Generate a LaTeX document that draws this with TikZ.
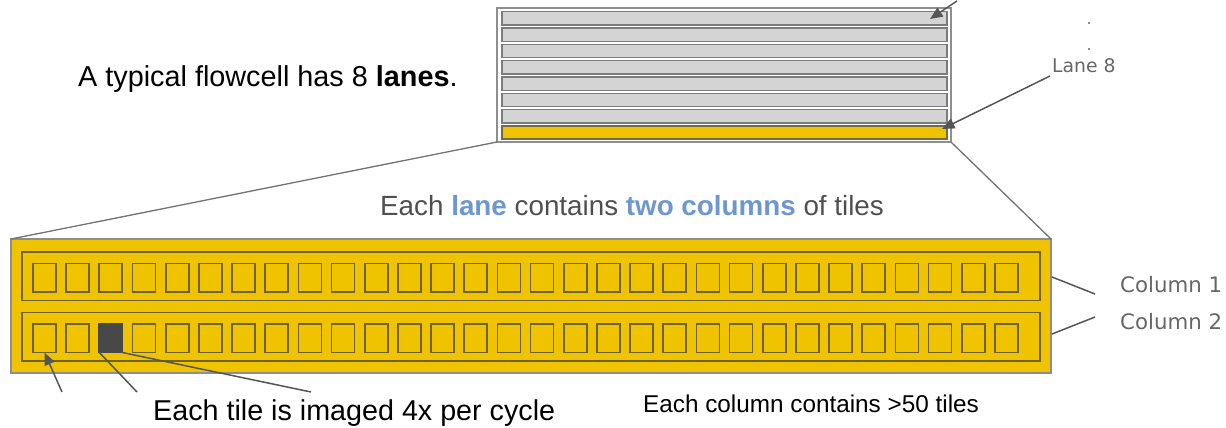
\documentclass[tikz,border=0pt]{standalone}
\usepackage{fontspec}
\setmainfont{Liberation Sans}
\newfontfamily\labelfont{DejaVu Sans}
\usetikzlibrary{arrows.meta}

\definecolor{laneyellow}{HTML}{F0C300}
\definecolor{lanegray}{HTML}{D4D4D4}
\definecolor{framegray}{HTML}{8E8E8E}
\definecolor{laneedge}{HTML}{7C7C7C}
\definecolor{tileedge}{HTML}{6F6232}
\definecolor{darktile}{HTML}{484848}
\definecolor{connector}{HTML}{555555}
\definecolor{captiongray}{HTML}{4F4F4F}
\definecolor{captionblue}{HTML}{6E97CF}
\definecolor{labelgray}{HTML}{666666}

\tikzset{
  box/.style={draw, inner sep=0pt, outer sep=0pt, anchor=north west},
  frame/.style={box, draw=framegray, line width=1.3pt},
  lanebox/.style={box, draw=laneedge, line width=1.4pt, fill=lanegray,
    minimum width=445pt, minimum height=13.3pt},
  colbox/.style={box, draw=tileedge, line width=1.6pt,
    minimum width=1018pt, minimum height=48.5pt},
  tile/.style={box, draw=tileedge, line width=1.7pt,
    minimum width=23pt, minimum height=28.5pt},
  darktilebox/.style={tile, draw=darktile, fill=darktile},
  link/.style={draw=connector, line width=1.5pt},
  pointer/.style={link, -{Triangle[length=12.5pt,width=10.5pt]}},
  caption/.style={inner sep=0pt, anchor=base west},
  sidelabel/.style={caption, text=labelgray, font=\labelfont},
}

\begin{document}
\begin{tikzpicture}[x=1pt,y=-1pt]
\useasboundingbox (0,0) rectangle (1226,428);

% flowcell with its eight lanes
\node[frame, minimum width=454pt, minimum height=134pt] (cell) at (497,8) {};
\foreach \k in {1,...,7} {
  \node[lanebox] (lane\k) at (502,{11.7+(\k-1)*16.3}) {};
}
\node[lanebox, fill=laneyellow, draw=tileedge!70!laneedge] (lane8) at (502,125.8) {};

% enlarged lane with two columns of tiles
\node[frame, fill=laneyellow, minimum width=1040pt, minimum height=134pt] (bigl) at (11,239) {};
\node[colbox] (col1) at (22,252) {};
\node[colbox] (col2) at (22,312.5) {};
\foreach \i in {1,...,30} {
  \pgfmathsetmacro\tx{33+(\i-1)*33.17}
  \node[tile] (ta\i) at (\tx,263.5) {};
  \ifnum\i=3 \def\tilestyle{darktilebox}\else\def\tilestyle{tile}\fi
  \node[\tilestyle] (tb\i) at (\tx,324) {};
}

% zoom lines
\draw[link, line width=1.3pt, draw=framegray!80!black] (cell.south west) -- (bigl.north west);
\draw[link, line width=1.3pt, draw=framegray!80!black] (cell.south east) -- (bigl.north east);

% texts
\node[caption, font=\fontsize{28.8}{32}\selectfont] (title) at (78,86)
  {A typical flowcell has 8 \textbf{lanes}.};
\node[caption, text=captiongray, font=\fontsize{27.8}{32}\selectfont] (lanecap) at (380,215)
  {Each \textcolor{captionblue}{\textbf{lane}} contains \textcolor{captionblue}{\textbf{two columns}} of tiles};
\node[caption, font=\fontsize{28.7}{32}\selectfont] (tilecap) at (153,420)
  {Each tile is imaged 4x per cycle};
\node[caption, font=\fontsize{24.3}{28}\selectfont] (colcap) at (643,412)
  {Each column contains >50 tiles};
\node[sidelabel, font=\labelfont\fontsize{18.8}{22}\selectfont] (l8) at (1052,73) {Lane 8};
\node[sidelabel, font=\labelfont\fontsize{21.3}{25}\selectfont] (c1) at (1120,292) {Column 1};
\node[sidelabel, font=\labelfont\fontsize{21.3}{25}\selectfont] (c2) at (1120,329) {Column 2};

% vertical ellipsis above the lane label
\fill[labelgray] (1089,23) circle (1.2pt) (1089,49) circle (1.2pt);

% arrows and leader lines
\coordinate (toptail) at (957,1);
\coordinate (toptip) at (930,19);
\coordinate (l8tail) at (1050,76);
\coordinate (l8tip) at (942,129);
\draw[pointer] (toptail) -- (toptip);
\draw[pointer] (l8tail) -- (l8tip);

\coordinate (c1a) at (1052,277);
\coordinate (c1b) at (1095,294);
\coordinate (c2a) at (1052,334);
\coordinate (c2b) at (1095,317);
\draw[link] (c1a) -- (c1b);
\draw[link] (c2a) -- (c2b);

\coordinate (tailA) at (62,392);
\coordinate (tailB) at (137,392);
\coordinate (tailC) at (311,392);
\draw[pointer] (tailA) -- (tb1.south);
\draw[link] (tailB) -- (tb3.south west);
\draw[link] (tailC) -- (tb3.south east);
\end{tikzpicture}
\end{document}
